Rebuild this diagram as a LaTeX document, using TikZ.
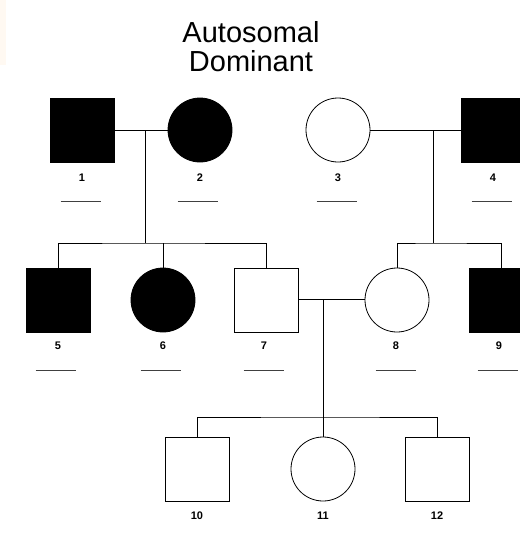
\documentclass[tikz,border=0pt]{standalone}
\usepackage{fontspec}
\setmainfont{Liberation Sans}

\begin{document}
\begin{tikzpicture}[x=1pt,y=-1pt,line width=0.8pt,
  male/.style={draw,rectangle,minimum size=64pt,inner sep=0pt},
  female/.style={draw,circle,minimum size=64pt,inner sep=0pt},
  affected/.style={fill=black},
  num/.style={font=\bfseries\fontsize{11}{11}\selectfont,inner sep=0pt},
  blank/.style={minimum width=40pt,inner sep=0pt,minimum height=0pt}]

\useasboundingbox (0,0) rectangle (520,539);
\fill[orange!5] (0,0) rectangle (6,65);

\node [align=center,font=\fontsize{29}{29}\selectfont] (title) at (251,47) {Autosomal\\Dominant};

% generation I
\node[male,affected]   (1) at (82,130)  {};
\node[female,affected] (2) at (200,130) {};
\node[female]          (3) at (338,130) {};
\node[male,affected]   (4) at (493,130) {};

% generation II
\node[male,affected]   (5) at (58,300)  {};
\node[female,affected] (6) at (163,300) {};
\node[male]            (7) at (266,300) {};
\node[female]          (8) at (397,300) {};
\node[male,affected]   (9) at (501,300) {};

% generation III
\node[male]   (10) at (197,469) {};
\node[female] (11) at (323,469) {};
\node[male]   (12) at (437,469) {};

% numbers and blanks
\foreach \n/\x/\y in {1/82/178,2/200/178,3/338/178,4/493/178,
                      5/58/346,6/163/346,7/264/346,8/396/346,9/499/346,
                      10/197/516,11/323/516,12/437/516}
  \node[num] (n\n) at (\x,\y) {\n};
\foreach \n/\x/\y in {1/81/201,2/198/201,3/337/201,4/492/201,
                      5/56/370,6/161/370,7/264/370,8/396/370,9/498/370}
  {\node[blank] (u\n) at (\x,\y) {};
   \draw[line width=0.6pt,black!75] (u\n.west) -- (u\n.east);}

% matings and sibships
\coordinate (m12) at (145,130);
\coordinate (s12) at (145,243);
\coordinate (m34) at (433,130);
\coordinate (s34) at (433,243);
\coordinate (m78) at (323,299);
\coordinate (s78) at (323,417);

\draw (1) -- (2);
\draw (3) -- (4);
\draw (7.east |- m78) -- (8.west |- m78);

\draw (m12) -- (s12);
\draw (5.north) |- (s12) -| (7.north);
\draw (6.north) -- (6.north |- s12);

\draw (m34) -- (s34);
\draw (8.north) |- (s34) -| (9.north);

\draw (m78) -- (s78);
\draw (10.north) |- (s78) -| (12.north);
\draw (11.north) -- (s78);

\end{tikzpicture}
\end{document}
